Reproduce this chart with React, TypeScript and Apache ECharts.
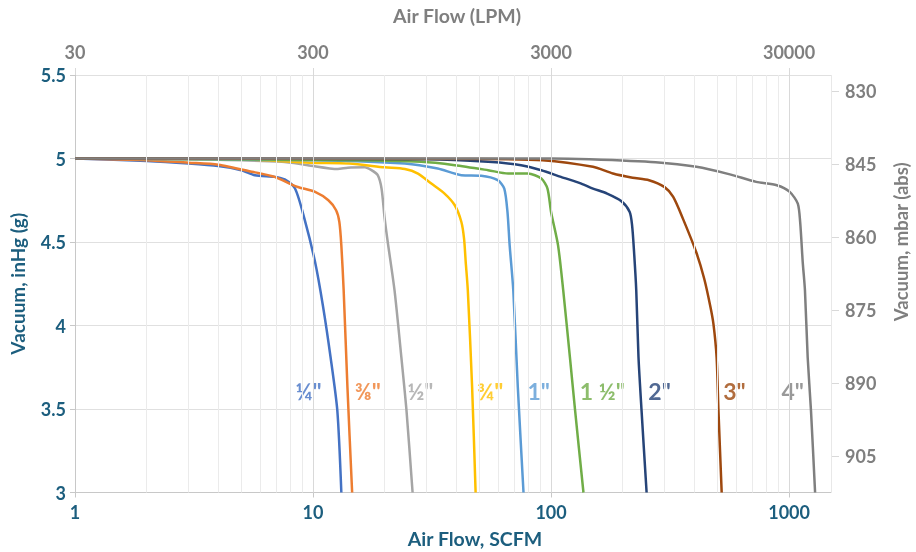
import React, { useEffect, useRef } from 'react';
import * as echarts from 'echarts';

// ---- Data (Air Flow SCFM, Vacuum inHg) ----
const SERIES_NAMES = ['¼"', '⅜"', '½"', '¾"', '1"', '1 ½"', '2"', '3"', '4"'];
const SERIES_COLORS = ['#4472C4', '#ED7D31', '#A5A5A5', '#FFC000', '#5B9BD5', '#70AD47', '#264478', '#9E480E', '#7F7F7F'];

const quarterInch = [[1, 5.0], [2, 4.985], [3, 4.97], [4, 4.955], [5, 4.93], [5.7, 4.9], [6.9, 4.89], [7.6, 4.875], [8.4, 4.82], [9.2, 4.64], [10.2, 4.38], [11.0, 4.12], [11.85, 3.81], [12.65, 3.49], [13.15, 3.0]];
const threeEighthInch = [[1, 5.0], [2, 4.99], [3, 4.975], [4, 4.963], [5.7, 4.917], [6.9, 4.89], [8.1, 4.845], [8.7, 4.828], [10.2, 4.8], [11.6, 4.75], [12.5, 4.69], [12.9, 4.62], [13.15, 4.48], [13.45, 4.21], [13.95, 3.63], [14.6, 3.0]];
const halfInch = [[1, 5.0], [3, 4.995], [7.4, 4.98], [9.5, 4.96], [12.7, 4.937], [14.0, 4.945], [16.5, 4.947], [17.6, 4.93], [18.7, 4.9], [19.4, 4.82], [20.0, 4.64], [20.6, 4.5], [22.0, 4.21], [23.5, 3.81], [24.7, 3.49], [26.2, 3.0]];
const threeQuarterInch = [[1, 5.0], [5, 4.995], [9.7, 4.975], [14.2, 4.97], [20.0, 4.947], [24.3, 4.937], [27.6, 4.91], [31.4, 4.85], [35.7, 4.79], [39.4, 4.72], [42.0, 4.62], [43.1, 4.52], [43.8, 4.38], [44.7, 4.21], [46.6, 3.63], [48.2, 3.0]];
const oneInch = [[1, 5.0], [10, 4.99], [24.3, 4.97], [33.4, 4.94], [42.0, 4.9], [50.9, 4.897], [59.7, 4.87], [63.6, 4.82], [65.6, 4.68], [67.0, 4.48], [69.4, 4.21], [72.5, 3.63], [76.6, 3.0]];
const oneHalfInch = [[1, 5.0], [15, 4.99], [28.5, 4.98], [39.4, 4.96], [54.4, 4.93], [66, 4.91], [80, 4.91], [91, 4.88], [96.6, 4.82], [100, 4.68], [107, 4.48], [112.5, 4.21], [120, 3.81], [126.2, 3.49], [136.8, 3.0]];
const twoInch = [[1, 5.0], [30, 4.995], [54.4, 4.98], [74.8, 4.96], [91, 4.93], [110, 4.89], [134, 4.85], [150, 4.82], [172, 4.79], [197, 4.745], [214, 4.68], [219, 4.6], [223, 4.45], [228, 4.21], [233, 3.81], [240, 3.49], [252, 3.0]];
const threeInch = [[1, 5.0], [50, 4.997], [92, 4.99], [150, 4.95], [182, 4.91], [220, 4.885], [258, 4.87], [299, 4.83], [326, 4.77], [358, 4.64], [407, 4.44], [440, 4.28], [466, 4.12], [481, 4.01], [496, 3.81], [505, 3.49], [521, 3.0]];
const fourInch = [[1, 5.0], [100, 5.0], [145, 4.995], [275, 4.977], [408, 4.95], [564, 4.905], [728, 4.86], [888, 4.84], [1006, 4.8], [1088, 4.73], [1113, 4.62], [1141, 4.38], [1166, 4.21], [1197, 3.81], [1236, 3.49], [1286, 3.0]];
const SERIES_DATA = [quarterInch, threeEighthInch, halfInch, threeQuarterInch, oneInch, oneHalfInch, twoInch, threeInch, fourInch];

// in-chart label anchors (left edge, SCFM) and their vacuum level
const LABEL_X = [8.4, 14.9, 24.8, 48.6, 79.2, 131.5, 255, 526, 925];
const LABEL_Y = 3.61;

// axis ticks / grid
const MINOR_X = [2, 3, 4, 5, 6, 7, 8, 9, 20, 30, 40, 50, 60, 70, 80, 90, 200, 300, 400, 500, 600, 700, 800, 900];
const MAJOR_X = [10, 100, 1000];
const X_MIN = 1;
const X_MAX = 1500;
const MBAR_TICKS = [830, 845, 860, 875, 890, 905];
const LPM_PER_SCFM = 30;

const TEAL = '#1C5E7E';
const GREY = '#7F7F7F';
const FONT = 'Lato, "DejaVu Sans", sans-serif';

export default function App() {
  const ref = useRef<HTMLDivElement>(null);
  useEffect(() => {
    const chart = echarts.init(ref.current!, null, { renderer: 'svg' });
    const lineSeries = SERIES_DATA.map((d, i) => ({
      name: SERIES_NAMES[i],
      type: 'line',
      xAxisIndex: 0,
      yAxisIndex: 0,
      data: d,
      showSymbol: false,
      symbol: 'none',
      smooth: 0.25,
      z: 3,
      lineStyle: { color: SERIES_COLORS[i], width: 2.5 },
      silent: true,
    }));
    const gridLine = (values: number[], color: string, z: number) => ({
      type: 'line', xAxisIndex: 0, yAxisIndex: 0,
      data: [[1, 3]], symbol: 'none', lineStyle: { width: 0, opacity: 0 }, silent: true, z,
      markLine: {
        silent: true, symbol: ['none', 'none'], label: { show: false }, animation: false,
        lineStyle: { color, width: 1, type: 'solid' },
        emphasis: { disabled: true },
        data: values.map((v) => ({ xAxis: v })),
      },
    });
    const option: any = {
      animation: false,
      textStyle: { fontFamily: FONT },
      grid: { left: 75, right: 85, top: 75, bottom: 59.5, containLabel: false, outerBoundsMode: 'none' },
      xAxis: [
        {
          type: 'log', logBase: 10, min: X_MIN, max: X_MAX, position: 'bottom',
          name: 'Air Flow, SCFM', nameLocation: 'middle', nameGap: 36,
          nameTextStyle: { color: TEAL, fontSize: 19.5, fontWeight: 'bold', fontFamily: FONT, padding: [0, 0, 0, 44] },
          axisLine: { show: true, lineStyle: { color: '#C8C8C8', width: 1 } },
          axisTick: { show: true, length: 5, lineStyle: { color: '#C8C8C8' } },
          axisLabel: { color: TEAL, fontSize: 18, fontWeight: 'bold', margin: 10, showMaxLabel: false, fontFamily: FONT,
            formatter: (v: number) => String(Math.round(v)) },
          splitLine: { show: false },
        },
        {
          type: 'log', logBase: 10, min: X_MIN, max: X_MAX, position: 'top',
          name: 'Air Flow (LPM)', nameLocation: 'middle', nameGap: 50,
          nameTextStyle: { color: GREY, fontSize: 19.5, fontWeight: 'bold', fontFamily: FONT, padding: [0, 0, 0, 8] },
          axisLine: { show: false },
          axisTick: { show: true, length: 7, lineStyle: { color: '#D9D9D9' } },
          axisLabel: { color: GREY, fontSize: 18, fontWeight: 'bold', margin: 14, showMaxLabel: false, fontFamily: FONT,
            formatter: (v: number) => String(Math.round(v * LPM_PER_SCFM)) },
          splitLine: { show: false },
        },
      ],
      yAxis: [
        {
          type: 'value', min: 3, max: 5.5, interval: 0.5, position: 'left',
          name: 'Vacuum, inHg (g)', nameLocation: 'middle', nameGap: 48,
          nameTextStyle: { color: TEAL, fontSize: 19, fontWeight: 'bold', fontFamily: FONT },
          axisLine: { show: true, lineStyle: { color: '#C8C8C8', width: 1 } },
          axisTick: { show: true, length: 5, lineStyle: { color: '#C8C8C8' } },
          axisLabel: { color: TEAL, fontSize: 18, fontWeight: 'bold', margin: 9, fontFamily: FONT },
          splitLine: { show: true, lineStyle: { color: '#E0E0E0', width: 1 } },
        },
        {
          type: 'value', min: 826.7, max: 912.4, inverse: true, position: 'right',
          name: 'Vacuum, mbar (abs)', nameLocation: 'middle', nameGap: 60,
          nameTextStyle: { color: GREY, fontSize: 18.5, fontWeight: 'bold', fontFamily: FONT, padding: [0, 0, 0, 84] },
          axisLine: { show: false },
          axisTick: { show: true, length: 8, customValues: MBAR_TICKS, lineStyle: { color: '#D9D9D9' } },
          axisLabel: { color: GREY, fontSize: 18, fontWeight: 'bold', margin: 14, customValues: MBAR_TICKS, fontFamily: FONT },
          splitLine: { show: false },
        },
      ],
      series: [
        gridLine(MINOR_X, '#EBEBEB', 1),
        gridLine([X_MAX], '#E8E8E8', 1),
        gridLine(MAJOR_X, '#D9D9D9', 2),
        ...lineSeries,
        {
          name: 'labels', type: 'scatter', xAxisIndex: 0, yAxisIndex: 0, silent: true, z: 4,
          symbolSize: 1, itemStyle: { color: 'rgba(0,0,0,0)' },
          label: { show: true, position: 'right', distance: 0, fontSize: 23, fontWeight: 'bold', fontFamily: FONT,
            formatter: (p: any) => p.name },
          data: SERIES_NAMES.map((n, i) => ({ name: n, value: [LABEL_X[i], LABEL_Y], label: { color: SERIES_COLORS[i] } })),
        },
      ],
    };
    chart.setOption(option);
    return () => chart.dispose();
  }, []);
  return <div ref={ref} style={{ position: 'fixed', left: 0, top: 0, width: 916, height: 552 }} />;
}
